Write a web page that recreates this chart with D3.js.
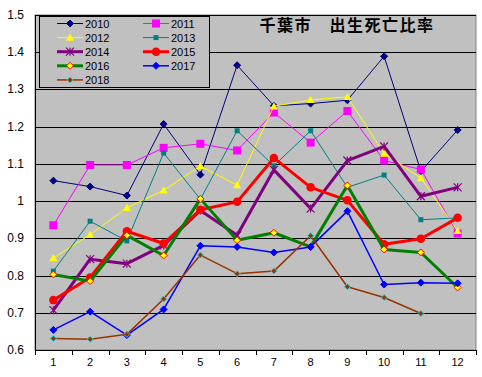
<!DOCTYPE html>
<html lang="ja">
<head>
<meta charset="UTF-8">
<title>千葉市 出生死亡比率</title>
<script src="https://d3js.org/d3.v7.min.js"></script>
<style>
  body { margin: 0; background: #fff; }
  svg { display: block; font-family: 'Liberation Sans', Arial, sans-serif; }
</style>
</head>
<body>
<svg id="chart" width="482" height="377"></svg>
<script>
  const months = [1, 2, 3, 4, 5, 6, 7, 8, 9, 10, 11, 12];
  const yTicks = [0.6, 0.7, 0.8, 0.9, 1, 1.1, 1.2, 1.3, 1.4, 1.5];

  const y2010 = [1.055, 1.039, 1.015, 1.207, 1.071, 1.365, 1.256, 1.262, 1.271, 1.389, 1.08, 1.191];
  const y2011 = [0.935, 1.097, 1.097, 1.143, 1.154, 1.136, 1.238, 1.157, 1.242, 1.109, 1.085, 0.913];
  const y2012 = [0.847, 0.91, 0.982, 1.029, 1.094, 1.043, 1.255, 1.272, 1.28, 1.128, 1.062, 0.92];
  const y2013 = [0.812, 0.946, 0.893, 1.129, 1.005, 1.189, 1.095, 1.189, 1.037, 1.07, 0.95, 0.955];
  const y2014 = [0.707, 0.844, 0.832, 0.881, 0.975, 0.908, 1.084, 0.98, 1.109, 1.147, 1.013, 1.037];
  const y2015 = [0.734, 0.795, 0.919, 0.886, 0.977, 0.998, 1.116, 1.037, 1.002, 0.884, 0.899, 0.955];
  const y2016 = [0.803, 0.785, 0.908, 0.854, 1.006, 0.895, 0.915, 0.877, 1.042, 0.87, 0.862, 0.768];
  const y2017 = [0.654, 0.703, 0.640, 0.709, 0.880, 0.877, 0.862, 0.877, 0.973, 0.776, 0.781, 0.779];
  const y2018 = [0.631, 0.629, 0.642, 0.737, 0.855, 0.805, 0.812, 0.907, 0.77, 0.741, 0.698, null];

  // style per series (Excel-ish)
  const series = [
    { name: "2010", values: y2010, color: "#000080", width: 1, marker: "diamond", size: 7, fill: "#000080", stroke: "#000080" },
    { name: "2011", values: y2011, color: "#FF00FF", width: 1, marker: "square", size: 8, fill: "#FF00FF", stroke: "#FF00FF" },
    { name: "2012", values: y2012, color: "#FFFF00", width: 1, marker: "triangle", size: 8, fill: "#FFFF00", stroke: "#FFFF00" },
    { name: "2013", values: y2013, color: "#008080", width: 1, marker: "square", size: 5, fill: "#008080", stroke: "#008080" },
    { name: "2014", values: y2014, color: "#800080", width: 3, marker: "star", size: 8, fill: "none", stroke: "#800080" },
    { name: "2015", values: y2015, color: "#FF0000", width: 3, marker: "circle", size: 8.5, fill: "#FF0000", stroke: "#FF0000" },
    { name: "2016", values: y2016, color: "#008000", width: 3, marker: "diamond", size: 7, fill: "#FFFF00", stroke: "#FF0000" },
    { name: "2017", values: y2017, color: "#0000FF", width: 1.5, marker: "diamond", size: 7, fill: "#0000FF", stroke: "#0000FF" },
    { name: "2018", values: y2018, color: "#993300", width: 1.5, marker: "diamond", size: 6, fill: "#993300", stroke: "#33CCCC" }
  ];

  const svg = d3.select("#chart");
  const plot = { left: 35, right: 476, top: 15, bottom: 350 };

  const x = d3.scaleBand().domain(months).range([plot.left, plot.right]);
  const y = d3.scaleLinear().domain([0.6, 1.5]).range([plot.bottom, plot.top]);
  const cx = m => x(m) + x.bandwidth() / 2;

  // plot background
  svg.append("rect")
    .attr("x", plot.left).attr("y", plot.top)
    .attr("width", plot.right - plot.left).attr("height", plot.bottom - plot.top)
    .attr("fill", "#C0C0C0").attr("stroke", "#808080");

  // gridlines
  svg.append("g").selectAll("line").data(yTicks.slice(1)).join("line")
    .attr("x1", plot.left).attr("x2", plot.right)
    .attr("y1", d => Math.round(y(d)) + 0.5).attr("y2", d => Math.round(y(d)) + 0.5)
    .attr("stroke", "#000").attr("stroke-width", 1);

  // y axis labels
  svg.append("g").selectAll("text").data(yTicks).join("text")
    .attr("x", 24).attr("y", d => y(d) + 4)
    .attr("text-anchor", "end").attr("font-size", 12)
    .text(d => d3.format("")(d));

  // axis lines
  svg.append("line").attr("x1", plot.left + 0.5).attr("x2", plot.left + 0.5)
    .attr("y1", plot.top).attr("y2", plot.bottom).attr("stroke", "#000");
  svg.append("line").attr("x1", plot.left).attr("x2", plot.right)
    .attr("y1", plot.bottom + 0.5).attr("y2", plot.bottom + 0.5).attr("stroke", "#000");

  // x ticks at category boundaries
  const bounds = months.map(m => x(m)).concat([plot.right]);
  svg.append("g").selectAll("line").data(bounds).join("line")
    .attr("x1", d => Math.round(d) + 0.5).attr("x2", d => Math.round(d) + 0.5)
    .attr("y1", plot.bottom).attr("y2", plot.bottom + 5)
    .attr("stroke", "#000");
  svg.append("g").selectAll("text").data(months).join("text")
    .attr("x", d => cx(d)).attr("y", 366)
    .attr("text-anchor", "middle").attr("font-size", 11)
    .text(d => d);

  function drawMarker(g, s, px, py) {
    const h = s.size / 2;
    if (s.marker === "diamond") {
      g.append("path").attr("d", `M${px},${py - h}L${px + h},${py}L${px},${py + h}L${px - h},${py}Z`)
        .attr("fill", s.fill).attr("stroke", s.stroke).attr("stroke-width", 1);
    } else if (s.marker === "square") {
      g.append("rect").attr("x", px - h).attr("y", py - h).attr("width", s.size).attr("height", s.size)
        .attr("fill", s.fill);
    } else if (s.marker === "triangle") {
      g.append("path").attr("d", `M${px},${py - h}L${px + h},${py + h * 0.8}L${px - h},${py + h * 0.8}Z`)
        .attr("fill", s.fill);
    } else if (s.marker === "circle") {
      g.append("circle").attr("cx", px).attr("cy", py).attr("r", h).attr("fill", s.fill);
    } else if (s.marker === "star") {
      g.append("path")
        .attr("d", `M${px - h},${py - h}L${px + h},${py + h}M${px - h},${py + h}L${px + h},${py - h}M${px},${py - h}L${px},${py + h}`)
        .attr("stroke", s.stroke).attr("stroke-width", 1.2).attr("fill", "none");
    }
  }

  const line = d3.line()
    .defined(d => d.v != null)
    .x(d => cx(d.m)).y(d => y(d.v));

  series.forEach(s => {
    const pts = months.map((m, i) => ({ m: m, v: s.values[i] }));
    const g = svg.append("g");
    g.append("path").datum(pts).attr("d", line)
      .attr("fill", "none").attr("stroke", s.color).attr("stroke-width", s.width)
      .attr("stroke-linejoin", "round");
    pts.filter(p => p.v != null).forEach(p => drawMarker(g, s, cx(p.m), y(p.v)));
  });

  // legend
  const lg = svg.append("g");
  lg.append("rect").attr("x", 39.5).attr("y", 16.5).attr("width", 170).attr("height", 71)
    .attr("fill", "#C0C0C0").attr("stroke", "#000");
  series.forEach((s, i) => {
    const col = i % 2, row = Math.floor(i / 2);
    const x0 = col === 0 ? 57 : 143;
    const yy = 23.5 + row * 14.1;
    lg.append("line").attr("x1", x0).attr("x2", x0 + 26).attr("y1", yy).attr("y2", yy)
      .attr("stroke", s.color).attr("stroke-width", s.width);
    drawMarker(lg, s, x0 + 13, yy);
    lg.append("text").attr("x", x0 + 28).attr("y", yy + 4)
      .attr("font-size", 11).text(s.name);
  });

  // title
  svg.append("text")
    .attr("x", 347).attr("y", 31)
    .attr("text-anchor", "middle")
    .attr("font-family", "'Noto Sans CJK JP', sans-serif")
    .attr("font-weight", "bold").attr("font-size", 16)
    .attr("letter-spacing", 1.5)
    .text("千葉市　出生死亡比率");
</script>
</body>
</html>
